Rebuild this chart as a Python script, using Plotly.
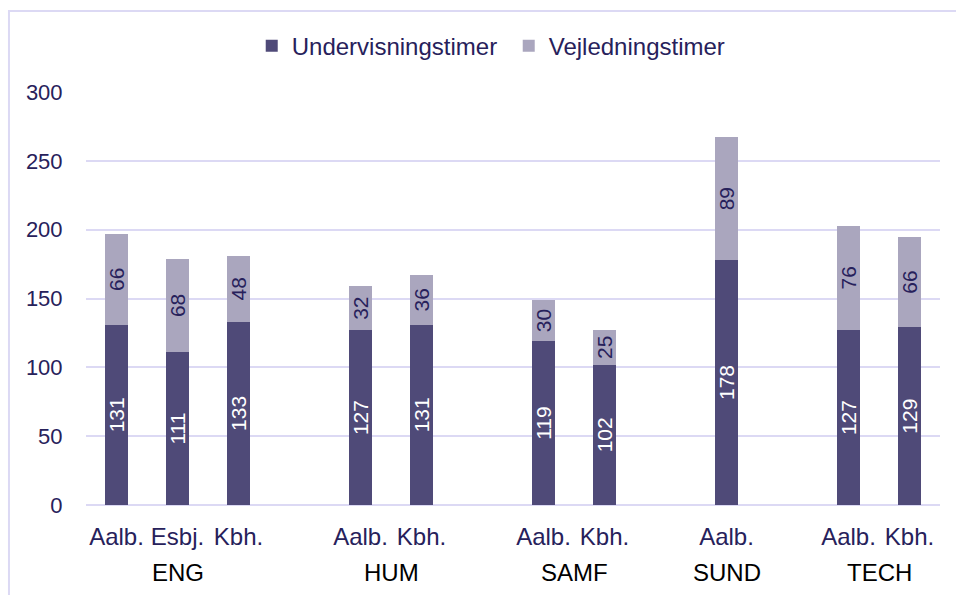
import plotly.graph_objects as go

# Faculties, their campuses and hours per student
faculties = ["ENG", "HUM", "SAMF", "SUND", "TECH"]
campuses = [["Aalb.", "Esbj.", "Kbh."], ["Aalb.", "Kbh."], ["Aalb.", "Kbh."], ["Aalb."], ["Aalb.", "Kbh."]]
undervisning = [[131, 111, 133], [127, 131], [119, 102], [178], [127, 129]]
vejledning = [[66, 68, 48], [32, 36], [30, 25], [89], [76, 66]]
y_ticks = [0, 50, 100, 150, 200, 250, 300]

DARK = "#4f4a78"
LIGHT = "#aaa6be"
NAVY = "#27215b"
GRID = "#dcd9f4"
FONT = "Liberation Sans, Arial, sans-serif"

# Lay campuses out on a numeric axis with one empty slot between faculties
xs, labels, u_vals, v_vals, group_centres = [], [], [], [], []
pos = 0
for fac, camps, u, v in zip(faculties, campuses, undervisning, vejledning):
    start = pos
    for c, uu, vv in zip(camps, u, v):
        xs.append(pos)
        labels.append(c)
        u_vals.append(uu)
        v_vals.append(vv)
        pos += 1
    group_centres.append((start + pos - 1) / 2)
    pos += 1

fig = go.Figure()
fig.add_trace(go.Bar(
    x=xs, y=u_vals, name="Undervisningstimer", marker=dict(color=DARK, line=dict(width=0)),
    text=[str(v) for v in u_vals], textposition="inside", insidetextanchor="middle",
    textangle=-90, constraintext="none",
    textfont=dict(color="white", size=21, family=FONT),
))
fig.add_trace(go.Bar(
    x=xs, y=v_vals, name="Vejledningstimer", marker=dict(color=LIGHT, line=dict(width=0)),
    text=[str(v) for v in v_vals], textposition="inside", insidetextanchor="middle",
    textangle=-90, constraintext="none",
    textfont=dict(color=NAVY, size=21, family=FONT),
))

# Faculty names under the campus labels
for fac, cx in zip(faculties, group_centres):
    fig.add_annotation(
        x=cx, y=-0.163, xref="x", yref="paper", text=fac, showarrow=False,
        yanchor="middle", font=dict(color="black", size=24, family=FONT),
    )

# Chart frame (left and top edges)
fig.add_shape(
    type="path", xref="paper", yref="paper",
    path="M -0.0902,-0.3 L -0.0902,1.196 L 1.2,1.196",
    line=dict(color=GRID, width=2),
)

fig.update_layout(
    width=956, height=595,
    margin=dict(l=86, r=16, t=92, b=90),
    barmode="stack", bargap=0.607,
    plot_bgcolor="white", paper_bgcolor="white",
    font=dict(family=FONT, color=NAVY, size=22),
    showlegend=True,
    legend=dict(
        orientation="h", x=0.495, xanchor="center", y=1.111, yanchor="middle",
        font=dict(size=24, color=NAVY, family=FONT), itemwidth=30,
        entrywidth=212,
        traceorder="normal", bgcolor="rgba(0,0,0,0)",
    ),
    xaxis=dict(
        range=[-0.5, 13.5], tickmode="array", tickvals=xs, ticktext=labels,
        showgrid=False, zeroline=False, showline=False,
        ticks="outside", ticklen=10, tickcolor="rgba(0,0,0,0)",
        tickfont=dict(size=24, color=NAVY, family=FONT),
    ),
    yaxis=dict(
        range=[0, 300], tickmode="array", tickvals=y_ticks,
        showgrid=True, gridcolor=GRID, gridwidth=2,
        zeroline=True, zerolinecolor=GRID, zerolinewidth=2, showline=False,
        ticks="outside", ticklen=18, tickcolor="rgba(0,0,0,0)",
        tickfont=dict(size=22, color=NAVY, family=FONT),
    ),
)

fig.write_html("out.html")
